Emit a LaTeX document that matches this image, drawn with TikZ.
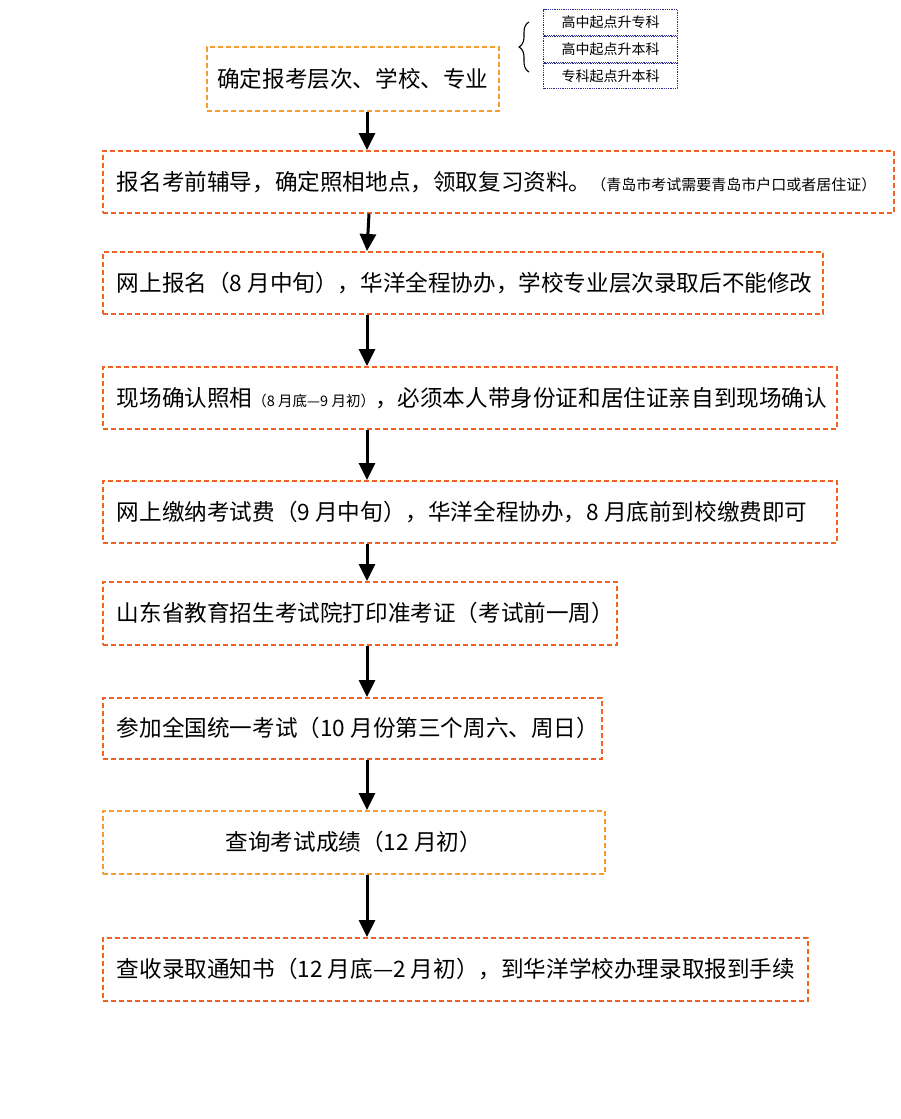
\documentclass[tikz,border=0pt]{standalone}
\usepackage{fontspec}
\newfontfamily\cjk{Noto Sans CJK SC}
\usetikzlibrary{arrows.meta,decorations.pathreplacing}
\definecolor{lorange}{RGB}{248,155,45}
\definecolor{rorange}{RGB}{240,100,35}
\definecolor{navyb}{RGB}{40,40,150}
\newcommand\lbx[2]{\makebox[#1][l]{#2}}
\newcommand\cbx[2]{\makebox[#1][c]{#2}}
\newcommand\smt[1]{{\fontsize{15pt}{17pt}\selectfont #1}}
\newcommand\smtt[1]{{\fontsize{14.5pt}{16pt}\selectfont #1}}
\begin{document}
\begin{tikzpicture}[x=1pt,y=-1pt,
  stepbox/.style={draw=rorange, line width=1.7pt, dash pattern=on 5pt off 3pt,
    inner xsep=14pt, inner ysep=0pt, anchor=north west,
    font=\cjk\fontsize{22.6pt}{26pt}\selectfont, text=black},
  lightbox/.style={stepbox, draw=lorange},
  optbox/.style={draw=navyb, line width=1.1pt, dash pattern=on 1pt off 0.8pt,
    minimum width=134pt, minimum height=25.7pt, inner sep=0pt,
    font=\cjk\fontsize{14pt}{16pt}\selectfont},
  arr/.style={line width=3pt, -{Triangle[width=16pt,length=17pt]}}
]
\useasboundingbox (0,0) rectangle (900,1119);

% options box
\node[optbox, anchor=north west] (r1) at (543,9) {高中起点升专科};
\node[optbox, anchor=north] (r2) at (r1.south) {高中起点升本科};
\node[optbox, anchor=north] (r3) at (r2.south) {专科起点升本科};
\draw[decorate, decoration={brace,amplitude=10pt}, line width=1.1pt] (529,72) -- (529,22);

% steps
\node[lightbox, minimum width=292pt, minimum height=64pt] (b1) at (206,46)
  {\cbx{264pt}{确定报考层次、学校、专业}};
\node[stepbox, minimum width=791pt, minimum height=62pt] (b2) at (102,150)
  {\lbx{763pt}{报名考前辅导，确定照相地点，领取复习资料。\smt{（青岛市考试需要青岛市户口或者居住证）}}};
\node[stepbox, minimum width=720pt, minimum height=62pt] (b3) at (102,251)
  {\lbx{692pt}{网上报名（8 月中旬），华洋全程协办，学校专业层次录取后不能修改}};
\node[stepbox, minimum width=734pt, minimum height=62pt] (b4) at (102,366)
  {\lbx{706pt}{现场确认照相\smtt{（8 月底—9 月初）}，必须本人带身份证和居住证亲自到现场确认}};
\node[stepbox, minimum width=734pt, minimum height=62pt] (b5) at (102,480)
  {\lbx{706pt}{网上缴纳考试费（9 月中旬），华洋全程协办，8 月底前到校缴费即可}};
\node[stepbox, minimum width=514pt, minimum height=63pt] (b6) at (102,581)
  {\lbx{486pt}{山东省教育招生考试院打印准考证（考试前一周）}};
\node[stepbox, minimum width=499pt, minimum height=61pt] (b7) at (102,697)
  {\lbx{471pt}{参加全国统一考试（10 月份第三个周六、周日）}};
\node[lightbox, minimum width=502pt, minimum height=63pt] (b8) at (102,810)
  {\cbx{474pt}{查询考试成绩（12 月初）}};
\node[stepbox, minimum width=705pt, minimum height=63pt] (b9) at (102,937)
  {\lbx{677pt}{查收录取通知书（12 月底—2 月初），到华洋学校办理录取报到手续}};

% arrows
\coordinate (ax) at (367,0);
\draw[arr] (b1.south -| ax) -- (b2.north -| ax);
\draw[arr] ([xshift=2pt]b2.south -| ax) -- (b3.north -| ax);
\draw[arr] (b3.south -| ax) -- (b4.north -| ax);
\draw[arr] (b4.south -| ax) -- (b5.north -| ax);
\draw[arr] (b5.south -| ax) -- (b6.north -| ax);
\draw[arr] (b6.south -| ax) -- (b7.north -| ax);
\draw[arr] (b7.south -| ax) -- (b8.north -| ax);
\draw[arr] (b8.south -| ax) -- (b9.north -| ax);
\end{tikzpicture}
\end{document}
